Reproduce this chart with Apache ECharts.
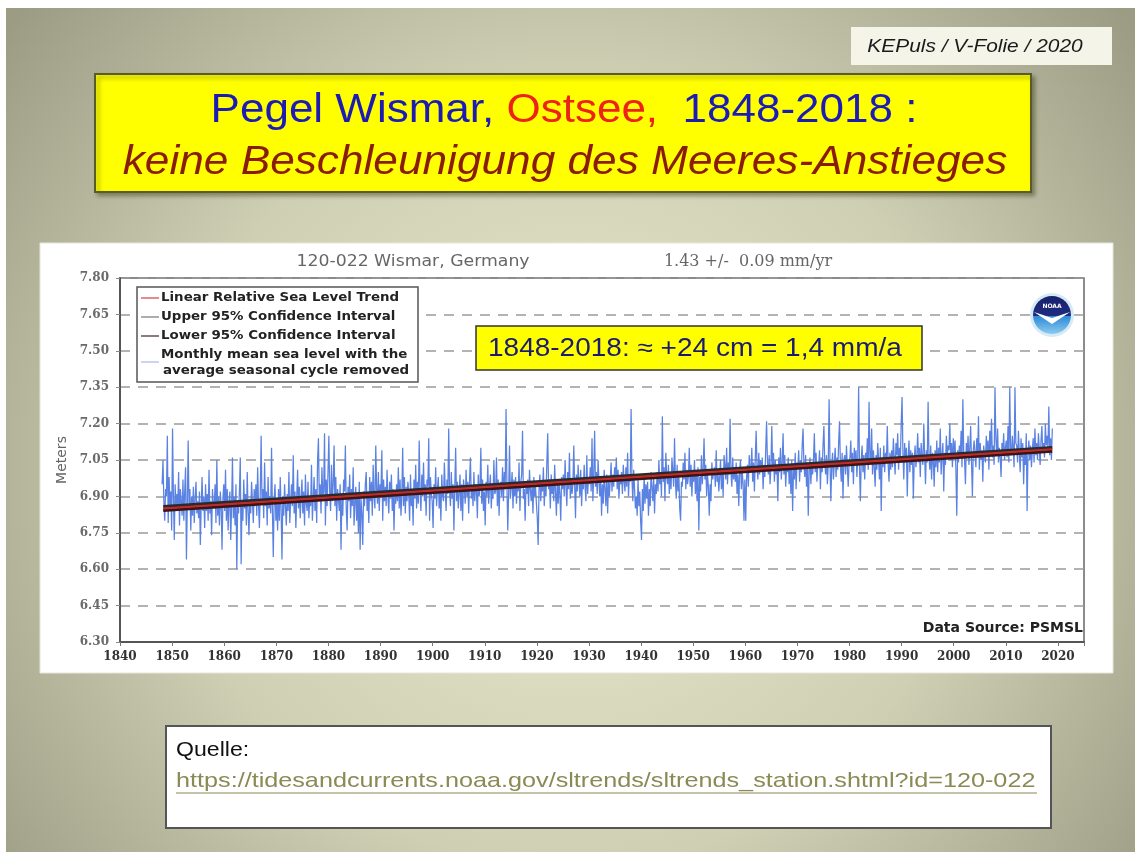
<!DOCTYPE html>
<html><head><meta charset="utf-8">
<script src="https://cdn.jsdelivr.net/npm/echarts@6/dist/echarts.min.js"></script>
<style>html,body{margin:0;padding:0;background:#fff}#c{width:1135px;height:852px}</style>
</head><body><div id="c"></div><script>
// ---- data (metres), 6 readings per year ----
const decadeStart = [1848,1850,1860,1870,1880,1890,1900,1910,1920,1930,1940,1950,1960,1970,1980,1990,2000,2010];
const msl1840s = [6.95,7.05,6.88,6.80,6.93,6.90, 7.15,6.79,6.98,6.86,6.92,6.76];
const msl1850s = [7.18,6.90,6.72,6.95,6.84,6.91, 6.86,7.00,6.78,6.93,6.88,6.82, 6.97,6.80,6.92,7.02,6.64,6.87, 7.13,6.85,6.93,6.76,6.90,6.82, 6.94,6.79,6.89,6.96,6.83,6.88,
 6.81,6.92,6.70,6.86,6.98,6.84, 6.90,6.77,6.95,6.84,6.91,6.80, 7.01,6.83,6.88,6.74,6.93,6.86, 6.85,6.95,6.79,7.05,6.82,6.90, 6.78,6.92,6.86,6.68,6.89,6.95];
const msl1860s = [6.84,7.01,6.80,6.93,6.76,6.88, 6.92,6.72,6.86,7.06,6.81,6.90, 6.78,6.95,6.60,6.87,6.83,6.92, 7.06,6.62,6.88,6.80,6.97,6.85, 6.91,6.78,7.00,6.84,6.74,6.89,
 6.83,6.96,6.88,6.79,6.93,6.86, 6.95,6.82,7.02,6.87,6.77,6.91, 7.15,6.88,6.93,6.81,7.04,6.86, 6.92,6.78,6.98,6.85,6.90,6.83, 7.10,6.84,6.65,6.89,6.95,6.80];
const msl1870s = [6.87,6.76,6.93,6.80,6.98,6.85, 6.64,6.90,6.82,6.95,6.86,6.78, 6.91,6.84,7.00,6.79,6.88,6.95, 6.86,7.07,6.83,6.92,6.77,6.90, 7.01,6.85,6.94,6.81,6.89,6.97,
 6.83,6.92,6.78,6.99,6.87,6.84, 6.96,6.81,6.90,6.86,7.03,6.80, 6.89,6.98,6.84,6.93,6.79,7.05, 7.14,6.88,6.95,6.83,7.02,6.90, 6.92,7.16,6.78,6.97,6.86,7.00];
const msl1880s = [7.15,6.91,6.84,7.03,6.88,6.95, 7.11,6.86,6.98,6.80,6.93,6.89, 6.84,6.95,6.68,6.90,6.82,6.97, 6.92,7.11,6.85,6.76,6.94,6.88, 6.99,6.81,6.93,6.86,7.02,6.78,
 6.87,6.94,6.80,6.91,6.75,6.96, 6.68,6.89,6.83,6.70,6.92,6.86, 6.95,7.00,6.84,6.91,6.79,6.98, 6.88,6.96,6.82,7.03,6.90,6.85, 7.11,6.93,6.87,7.00,6.84,6.95];
const msl1890s = [6.92,7.09,6.80,6.97,6.88,6.94, 6.86,7.01,6.90,6.83,6.96,6.89, 6.99,6.84,6.93,6.76,6.91,6.87, 6.95,6.88,7.02,6.85,6.97,6.82, 6.90,7.10,6.86,6.98,6.83,6.94,
 6.88,6.96,6.91,6.80,6.99,6.86, 6.93,6.78,6.97,6.89,7.03,6.85, 6.96,6.87,7.13,6.92,6.84,6.99, 6.90,7.04,6.88,6.95,6.82,6.97, 6.94,7.14,6.80,6.98,6.91,6.88];
const msl1900s = [6.77,6.95,6.89,7.02,6.86,6.93, 6.98,6.85,6.92,6.80,6.99,6.90, 6.88,7.04,6.93,6.84,6.97,6.91, 7.18,6.92,6.86,7.00,6.89,6.95, 6.76,6.94,7.10,6.88,6.96,6.85,
 6.91,6.99,6.84,6.95,6.80,6.97, 6.93,6.87,7.01,6.90,6.96,6.83, 6.97,7.06,6.89,6.94,6.86,7.00, 6.88,6.95,6.92,6.81,6.99,6.90, 6.94,7.10,6.87,6.97,6.84,6.92];
const msl1910s = [6.78,6.96,6.90,7.03,6.87,6.94, 6.99,6.85,6.93,6.89,7.05,6.91, 6.92,7.06,6.86,6.97,6.82,6.95, 6.96,6.90,7.02,6.88,7.00,6.93, 7.26,6.95,6.76,6.91,7.11,6.89,
 6.94,7.00,6.85,6.97,6.90,6.98, 6.87,6.95,6.92,7.04,6.84,6.96, 6.99,7.17,6.89,6.93,6.80,6.95, 6.91,6.97,6.86,7.01,6.93,6.88, 6.95,6.83,6.98,6.90,6.94,6.87];
const msl1920s = [6.81,6.70,6.94,6.99,6.88,6.96, 6.92,7.02,6.86,6.95,6.90,7.04, 7.16,6.93,6.97,6.85,6.99,6.91, 6.95,6.88,7.03,6.92,6.82,6.97, 6.87,6.96,6.91,6.80,6.98,6.93,
 6.99,6.90,7.05,6.94,6.86,7.00, 6.93,7.08,6.89,6.97,6.91,6.95, 7.11,6.95,6.81,6.99,6.92,7.03, 6.96,6.90,7.01,6.86,6.97,6.93, 7.03,6.94,6.88,7.07,6.91,6.98];
const msl1930s = [6.95,7.02,6.92,7.14,6.88,6.99, 7.17,6.94,7.00,6.91,7.05,6.96, 6.90,6.98,6.82,6.95,6.87,7.01, 6.93,6.86,6.99,6.83,6.96,6.90, 6.97,7.04,6.92,6.99,6.94,7.02,
 6.98,7.06,6.93,7.01,6.89,6.97, 6.95,7.00,6.91,7.03,6.96,6.92, 7.02,6.94,7.08,6.90,6.99,6.96, 7.26,6.97,6.88,7.01,6.93,6.85, 6.90,6.82,6.97,6.86,6.92,6.80];
const msl1940s = [6.72,6.93,6.84,6.99,6.87,6.95, 6.89,6.96,6.82,6.93,6.86,7.00, 6.94,6.88,6.98,6.83,6.95,6.91, 7.00,6.92,7.05,6.95,6.99,6.90, 7.23,6.96,7.02,6.88,7.08,6.98,
 6.95,7.03,6.91,7.00,6.93,7.06, 7.01,6.94,7.14,6.97,6.89,7.03, 6.92,6.99,6.85,6.80,6.96,6.94, 7.04,6.97,7.08,6.93,7.01,6.95, 6.98,7.10,6.94,7.03,6.90,7.00];
const msl1950s = [6.96,7.05,6.91,7.00,6.88,7.02, 6.76,6.98,6.92,7.07,6.95,7.01, 7.14,6.97,7.03,6.90,6.99,6.94, 6.82,6.95,6.88,7.04,6.97,7.00, 7.02,6.94,7.09,6.96,7.01,6.92,
 6.98,7.05,6.93,7.00,6.90,7.07, 7.03,6.97,7.10,6.95,7.04,6.99, 7.22,7.00,6.94,7.06,6.97,7.02, 6.96,7.04,6.91,6.99,6.86,7.01, 7.05,6.93,7.00,6.95,6.80,6.97];
const msl1960s = [6.80,6.98,7.03,6.94,7.07,7.00, 7.01,7.10,6.96,7.04,6.92,7.06, 7.17,7.02,6.97,7.08,6.99,7.05, 7.00,7.06,6.93,7.03,6.98,7.09, 7.21,7.04,6.99,7.07,6.95,7.02,
 7.19,7.01,7.08,6.96,7.05,6.99, 7.03,6.88,7.06,7.00,7.10,6.97, 7.04,7.16,6.99,7.07,6.94,7.02, 7.00,7.06,6.95,7.03,6.91,7.05, 6.84,7.01,6.97,7.08,6.93,7.04];
const msl1970s = [7.02,7.09,6.96,7.05,7.00,7.11, 7.18,7.03,6.98,7.07,6.94,7.04, 6.82,7.01,7.06,6.95,7.03,6.99, 7.05,7.16,7.00,7.08,6.96,7.04, 7.02,7.09,6.93,7.06,7.00,7.11,
 7.19,7.04,6.99,7.07,6.95,7.03, 7.30,7.05,6.88,7.02,7.08,6.97, 7.04,7.10,6.98,7.06,7.01,7.12, 7.21,7.03,6.96,7.08,6.89,7.05, 7.07,6.99,7.11,7.02,6.94,7.04];
const msl1980s = [7.06,7.13,7.00,7.08,6.95,7.10, 7.04,7.09,6.98,7.06,7.35,7.02, 6.88,7.05,7.11,7.00,7.07,6.97, 7.08,7.03,7.14,7.01,7.29,7.06, 7.04,7.18,6.99,7.09,7.02,6.94,
 7.07,7.01,7.12,7.05,6.97,7.10, 6.84,7.06,7.02,7.11,7.00,7.08, 7.05,7.19,7.03,6.96,7.08,7.01, 7.09,7.02,7.14,7.06,6.99,7.12, 7.07,7.16,7.01,7.10,7.04,7.20];
const msl1990s = [7.31,7.08,6.97,7.12,7.04,7.10, 6.90,7.06,7.13,7.00,7.09,7.03, 7.08,6.89,7.05,7.11,7.02,7.07, 7.16,7.04,7.10,6.98,7.12,7.06, 7.03,7.20,7.07,6.95,7.09,7.04,
 7.29,7.06,7.01,7.11,6.97,7.08, 7.05,6.94,7.09,7.02,7.13,7.00, 7.10,7.04,7.18,6.99,7.07,7.12, 6.92,7.08,7.03,7.15,7.06,7.11, 7.09,7.20,7.05,7.12,7.02,7.14];
const msl2000s = [7.06,7.13,7.01,6.82,7.09,7.04, 7.11,7.06,7.17,7.02,7.30,7.08, 7.05,6.95,7.12,7.07,7.15,7.03, 7.10,7.19,7.04,6.90,7.09,7.13, 7.08,7.02,7.14,7.06,7.23,7.01,
 7.12,7.05,7.09,6.96,7.11,7.07, 7.04,7.15,7.08,7.13,7.01,7.17, 7.09,7.22,7.06,7.11,7.03,7.35, 7.14,7.07,7.18,7.04,7.10,7.06, 6.98,7.12,7.08,7.16,7.05,7.10];
const msl2010s = [7.13,7.06,7.19,7.04,7.35,7.09, 7.07,7.15,7.10,7.02,7.35,7.12, 7.11,7.04,7.17,7.08,7.00,7.14, 7.06,7.12,6.95,7.09,7.03,7.16, 6.84,7.08,7.13,7.05,7.11,7.02,
 7.09,7.14,7.04,7.18,7.07,7.12, 7.05,7.16,7.10,7.03,7.13,7.19, 7.08,7.12,7.06,7.20,7.11,7.15, 7.10,7.27,7.07,7.14,7.05,7.18];
const decades = [msl1840s,msl1850s,msl1860s,msl1870s,msl1880s,msl1890s,msl1900s,msl1910s,msl1920s,msl1930s,msl1940s,msl1950s,msl1960s,msl1970s,msl1980s,msl1990s,msl2000s,msl2010s];
const readingsPerYear = 6;

const trendYears = [1848.3, 2018.9];
const trendLevel = [6.850, 7.094];
const upperCI    = [6.858, 7.102];
const lowerCI    = [6.842, 7.086];

const yTicks = ['6.30','6.45','6.60','6.75','6.90','7.05','7.20','7.35','7.50','7.65','7.80'];
const xTickYears = [1840,1850,1860,1870,1880,1890,1900,1910,1920,1930,1940,1950,1960,1970,1980,1990,2000,2010,2020];

// ---- build tables ----
const obs = [];
decades.forEach((arr, d) => arr.forEach((v, i) => obs.push([decadeStart[d] + (i + 0.5) / readingsPerYear, v])));
const pairs = vals => trendYears.map((t, i) => [t, vals[i]]);

const chart = echarts.init(document.getElementById('c'), null, {renderer: 'canvas'});
const F = 'Liberation Sans, Arial, sans-serif';
const DJ = 'DejaVu Sans, sans-serif';

const option = {
  animation: false,
  backgroundColor: '#ffffff',
  grid: {left: 120, top: 278, width: 964, height: 364, show: true, borderColor: '#666', borderWidth: 1.5, backgroundColor: 'transparent'},
  xAxis: {
    type: 'value', min: 1840, max: 2025, interval: 10,
    axisLine: {show: true, onZero: false, lineStyle: {color: '#555', width: 2}},
    axisTick: {show: true, length: 4, lineStyle: {color: '#777'}},
    splitLine: {show: false},
    axisLabel: {margin: 9, color: '#333', fontFamily: 'DejaVu Serif', fontWeight: 'bold', fontSize: 12,
      formatter: v => xTickYears.indexOf(Math.round(v)) >= 0 && Math.abs(v - Math.round(v)) < 1e-6 ? String(Math.round(v)) : ''}
  },
  yAxis: {
    type: 'value', min: 6.30, max: 7.80, interval: 0.15,
    name: 'Meters', nameLocation: 'middle', nameGap: 51, nameRotate: 90,
    nameTextStyle: {color: '#666', fontFamily: DJ, fontSize: 14},
    axisLine: {show: true, lineStyle: {color: '#555', width: 2}},
    axisTick: {show: true, length: 4, lineStyle: {color: '#888'}},
    splitLine: {show: true, lineStyle: {color: '#9a9a9a', width: 1.5, type: [10, 8]}},
    axisLabel: {margin: 11, color: '#6a6a6a', fontFamily: 'DejaVu Serif', fontWeight: 'bold', fontSize: 12,
      formatter: v => { const s = v.toFixed(2); return yTicks.indexOf(s) >= 0 ? s : ''; }}
  },
  series: [
    {name: 'Monthly mean sea level', type: 'line', data: obs, showSymbol: false, symbol: 'none',
     lineStyle: {color: '#5a82e2', width: 1.25}, z: 2},
    {name: 'Upper 95% Confidence Interval', type: 'line', data: pairs(upperCI), showSymbol: false, symbol: 'none',
     lineStyle: {color: '#2a2a2a', width: 3}, z: 3},
    {name: 'Lower 95% Confidence Interval', type: 'line', data: pairs(lowerCI), showSymbol: false, symbol: 'none',
     lineStyle: {color: '#3c1414', width: 3}, z: 3},
    {name: 'Linear Relative Sea Level Trend', type: 'line', data: pairs(trendLevel), showSymbol: false, symbol: 'none',
     lineStyle: {color: '#c42a2a', width: 2}, z: 4}
  ],
  graphic: [
    // slide background
    {type: 'rect', z: -20, silent: true, shape: {x: 6, y: 8, width: 1129, height: 844},
     style: {fill: new echarts.graphic.RadialGradient(0.5, 0.55, 0.85, [{offset: 0, color: '#e8e8cd'}, {offset: 0.55, color: '#cfcfb4'}, {offset: 1, color: '#9c9c85'}])}},
    // KEPuls box
    {type: 'rect', z: -15, shape: {x: 851, y: 27, width: 261, height: 38}, style: {fill: '#f4f4e8'}},
    {type: 'text', z: -14, x: 975, y: 47, scaleX: 1.1, style: {text: 'KEPuls / V-Folie / 2020', font: 'italic 19px ' + F, fill: '#1a1a1a', align: 'center', verticalAlign: 'middle'}},
    // title box
    {type: 'rect', z: -15, shape: {x: 95, y: 74, width: 936, height: 118},
     style: {fill: '#ffff00', stroke: '#5a5a2a', lineWidth: 2, shadowBlur: 4, shadowOffsetX: 3, shadowOffsetY: 3, shadowColor: 'rgba(60,60,20,0.45)'}},
    {type: 'text', z: -14, x: 564, y: 111, scaleX: 1.1,
     style: {text: '{b|Pegel Wismar, }{r|Ostsee,}{b|  1848-2018 :}', align: 'center', verticalAlign: 'middle',
       rich: {b: {fill: '#1c1cb4', fontSize: 40, fontFamily: F}, r: {fill: '#ee2218', fontSize: 40, fontFamily: F}}}},
    {type: 'text', z: -14, x: 565, y: 163, scaleX: 1.105,
     style: {text: 'keine Beschleunigung des Meeres-Anstieges', font: 'italic 40px ' + F, fill: '#8a1c0a', align: 'center', verticalAlign: 'middle'}},
    // white chart panel
    {type: 'rect', z: -15, shape: {x: 40, y: 243, width: 1073, height: 430}, style: {fill: '#ffffff', stroke: '#e6e6da', lineWidth: 1}},
    // chart titles
    {type: 'text', z: 5, x: 413, y: 262, scaleX: 1.08, style: {text: '120-022 Wismar, Germany', font: '16px ' + DJ, fill: '#666', align: 'center', verticalAlign: 'middle'}},
    {type: 'text', z: 5, x: 748, y: 262, style: {text: '1.43 +/-  0.09 mm/yr', font: '16px DejaVu Serif', fill: '#666', align: 'center', verticalAlign: 'middle'}},
    // legend
    {type: 'rect', z: 10, shape: {x: 137, y: 287, width: 281, height: 95}, style: {fill: '#ffffff', stroke: '#555', lineWidth: 1.5}},
    {type: 'line', z: 11, shape: {x1: 141, y1: 298, x2: 159, y2: 298}, style: {stroke: '#d04040', lineWidth: 1.2}},
    {type: 'line', z: 11, shape: {x1: 141, y1: 317, x2: 159, y2: 317}, style: {stroke: '#777', lineWidth: 1.2}},
    {type: 'line', z: 11, shape: {x1: 141, y1: 336, x2: 159, y2: 336}, style: {stroke: '#4a2020', lineWidth: 1.2}},
    {type: 'line', z: 11, shape: {x1: 141, y1: 362, x2: 159, y2: 362}, style: {stroke: '#aab8ea', lineWidth: 1.2}},
    {type: 'text', z: 11, x: 161, y: 298, scaleX: 1.03, style: {text: 'Linear Relative Sea Level Trend', font: 'bold 13px ' + DJ, fill: '#222', verticalAlign: 'middle'}},
    {type: 'text', z: 11, x: 161, y: 317, scaleX: 1.03, style: {text: 'Upper 95% Confidence Interval', font: 'bold 13px ' + DJ, fill: '#222', verticalAlign: 'middle'}},
    {type: 'text', z: 11, x: 161, y: 336, scaleX: 1.03, style: {text: 'Lower 95% Confidence Interval', font: 'bold 13px ' + DJ, fill: '#222', verticalAlign: 'middle'}},
    {type: 'text', z: 11, x: 161, y: 355, scaleX: 1.03, style: {text: 'Monthly mean sea level with the', font: 'bold 13px ' + DJ, fill: '#222', verticalAlign: 'middle'}},
    {type: 'text', z: 11, x: 163, y: 371, scaleX: 1.03, style: {text: 'average seasonal cycle removed', font: 'bold 13px ' + DJ, fill: '#222', verticalAlign: 'middle'}},
    // yellow annotation
    {type: 'rect', z: 10, shape: {x: 476, y: 326, width: 446, height: 44}, style: {fill: '#ffff00', stroke: '#333', lineWidth: 1.5}},
    {type: 'text', z: 11, x: 488, y: 349, scaleX: 1.12, style: {text: '1848-2018: \u2248 +24 cm = 1,4 mm/a', font: '25px ' + F, fill: '#1b1b72', verticalAlign: 'middle'}},
    // NOAA logo
    {type: 'circle', z: 10, shape: {cx: 1052, cy: 315, r: 22}, style: {fill: '#d6eaf6'}},
    {type: 'circle', z: 11, shape: {cx: 1052, cy: 315, r: 19},
     style: {fill: new echarts.graphic.LinearGradient(0, 0, 0, 1, [{offset: 0, color: '#18226c'}, {offset: 0.52, color: '#1e2c80'}, {offset: 0.53, color: '#2c8ad6'}, {offset: 1, color: '#8ccaf0'}])}},
    {type: 'polygon', z: 12, shape: {points: [[1034, 312], [1043, 318], [1052, 324], [1061, 318], [1070, 312], [1061, 315], [1052, 318], [1043, 315]]}, style: {fill: '#ffffff'}},
    {type: 'text', z: 12, x: 1052, y: 306, style: {text: 'NOAA', font: 'bold 6px ' + DJ, fill: '#ffffff', align: 'center', verticalAlign: 'middle'}},
    // data source
    {type: 'text', z: 10, x: 1083, y: 628, style: {text: 'Data Source: PSMSL', font: 'bold 14px ' + DJ, fill: '#222', align: 'right', verticalAlign: 'middle'}},
    // source box
    {type: 'rect', z: -15, shape: {x: 166, y: 726, width: 885, height: 102}, style: {fill: '#ffffff', stroke: '#555', lineWidth: 2}},
    {type: 'text', z: -14, x: 176, y: 750, scaleX: 1.1, style: {text: 'Quelle:', font: '21px ' + F, fill: '#111', verticalAlign: 'middle'}},
    {type: 'text', z: -14, x: 176, y: 781, scaleX: 1.2, style: {text: 'https://tidesandcurrents.noaa.gov/sltrends/sltrends_station.shtml?id=120-022', font: '21px ' + F, fill: '#8a8a55', verticalAlign: 'middle'}},
    {type: 'line', z: -14, shape: {x1: 176, y1: 793, x2: 1037, y2: 793}, style: {stroke: '#8a8a55', lineWidth: 1.2}}
  ]
};
chart.setOption(option);
</script></body></html>
